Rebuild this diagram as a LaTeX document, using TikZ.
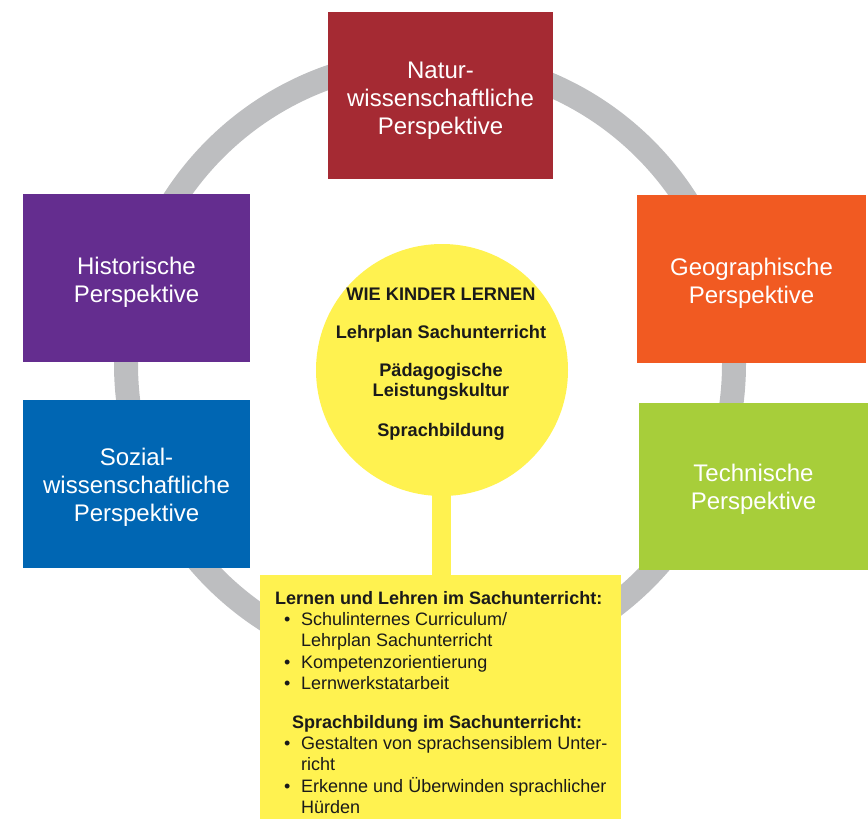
\documentclass[tikz,border=0pt]{standalone}
\usepackage{fontspec}
\setmainfont{Liberation Sans}
\usepackage{array}
\definecolor{ringgray}{HTML}{BDBEC0}
\definecolor{cnatur}{HTML}{A52A33}
\definecolor{chist}{HTML}{642D8F}
\definecolor{cgeo}{HTML}{F15A22}
\definecolor{csoz}{HTML}{0066B3}
\definecolor{ctech}{HTML}{A7CE3A}
\definecolor{cyel}{HTML}{FFF250}
\definecolor{ctext}{HTML}{1A1A1A}
\tikzset{
  perspbox/.style={rectangle, inner sep=0pt, draw=none},
  persptext/.style={inner sep=0pt, text=white, align=center,
    font=\fontsize{24}{28}\selectfont},
  yel/.style={fill=cyel, draw=none}
}
\begin{document}
\begin{tikzpicture}[x=1pt,y=-1pt]
\useasboundingbox (0,0) rectangle (868,819);
% ring
\draw[ringgray, line width=24pt] (430,364) circle[radius=304pt];
% boxes
\node[perspbox, fill=cnatur, minimum width=225pt, minimum height=167pt] (natur) at (440.5,95.5) {};
\node[perspbox, fill=chist, minimum width=227pt, minimum height=168pt] (hist) at (136.5,278) {};
\node[perspbox, fill=cgeo, minimum width=229pt, minimum height=168pt] (geo) at (751.5,279) {};
\node[perspbox, fill=csoz, minimum width=227pt, minimum height=168pt] (soz) at (136.5,484) {};
\node[perspbox, fill=ctech, minimum width=229pt, minimum height=167pt] (tech) at (753.5,486.5) {};
\node[persptext] (naturt) at ([yshift=-5pt]natur.center) {Natur-\\wissenschaftliche\\Perspektive};
\node[persptext] (histt) at ([yshift=-4.5pt]hist.center) {Historische\\Perspektive};
\node[persptext] (geot) at ([yshift=-4.5pt]geo.center) {Geographische\\Perspektive};
\node[persptext] (sozt) at ([yshift=-3.5pt]soz.center) {Sozial-\\wissenschaftliche\\Perspektive};
\node[persptext] (techt) at ([yshift=-3pt]tech.center) {Technische\\Perspektive};
% center circle
\node[circle, yel, minimum size=252pt, inner sep=0pt] (circ) at (442,370) {};
\node[rectangle, yel, minimum width=361pt, minimum height=244pt, inner sep=0pt] (bx) at (440.5,697) {};
\fill[cyel] ([xshift=-10pt,yshift=10pt]circ.south) rectangle ([xshift=10pt]bx.north);
\node[align=center, inner sep=0pt, text=ctext, font=\fontsize{18.2}{20}\selectfont\bfseries] (ctxt) at (441,364)
  {WIE KINDER LERNEN\\[18pt]
   Lehrplan Sachunterricht\\[18pt]
   Pädagogische\\Leistungskultur\\[20pt]
   Sprachbildung};
% list text
\node[anchor=north west, inner sep=0pt, text=ctext, font=\fontsize{18}{21.4}\selectfont] (list) at (275,589)
  {\begin{tabular}{@{}>{\hspace{9pt}}p{26pt}@{}l@{}}
   \multicolumn{2}{@{}l}{\bfseries Lernen und Lehren im Sachunterricht:}\\
   \textbullet & Schulinternes Curriculum/\\
    & Lehrplan Sachunterricht\\
   \textbullet & Kompetenzorientierung\\
   \textbullet & Lernwerkstatarbeit\\[17pt]
   \multicolumn{2}{@{}l}{\hspace{17pt}\bfseries Sprachbildung im Sachunterricht:}\\
   \textbullet & Gestalten von sprachsensiblem Unter-\\
    & richt\\
   \textbullet & Erkenne und Überwinden sprachlicher\\
    & Hürden
   \end{tabular}};
\end{tikzpicture}
\end{document}
